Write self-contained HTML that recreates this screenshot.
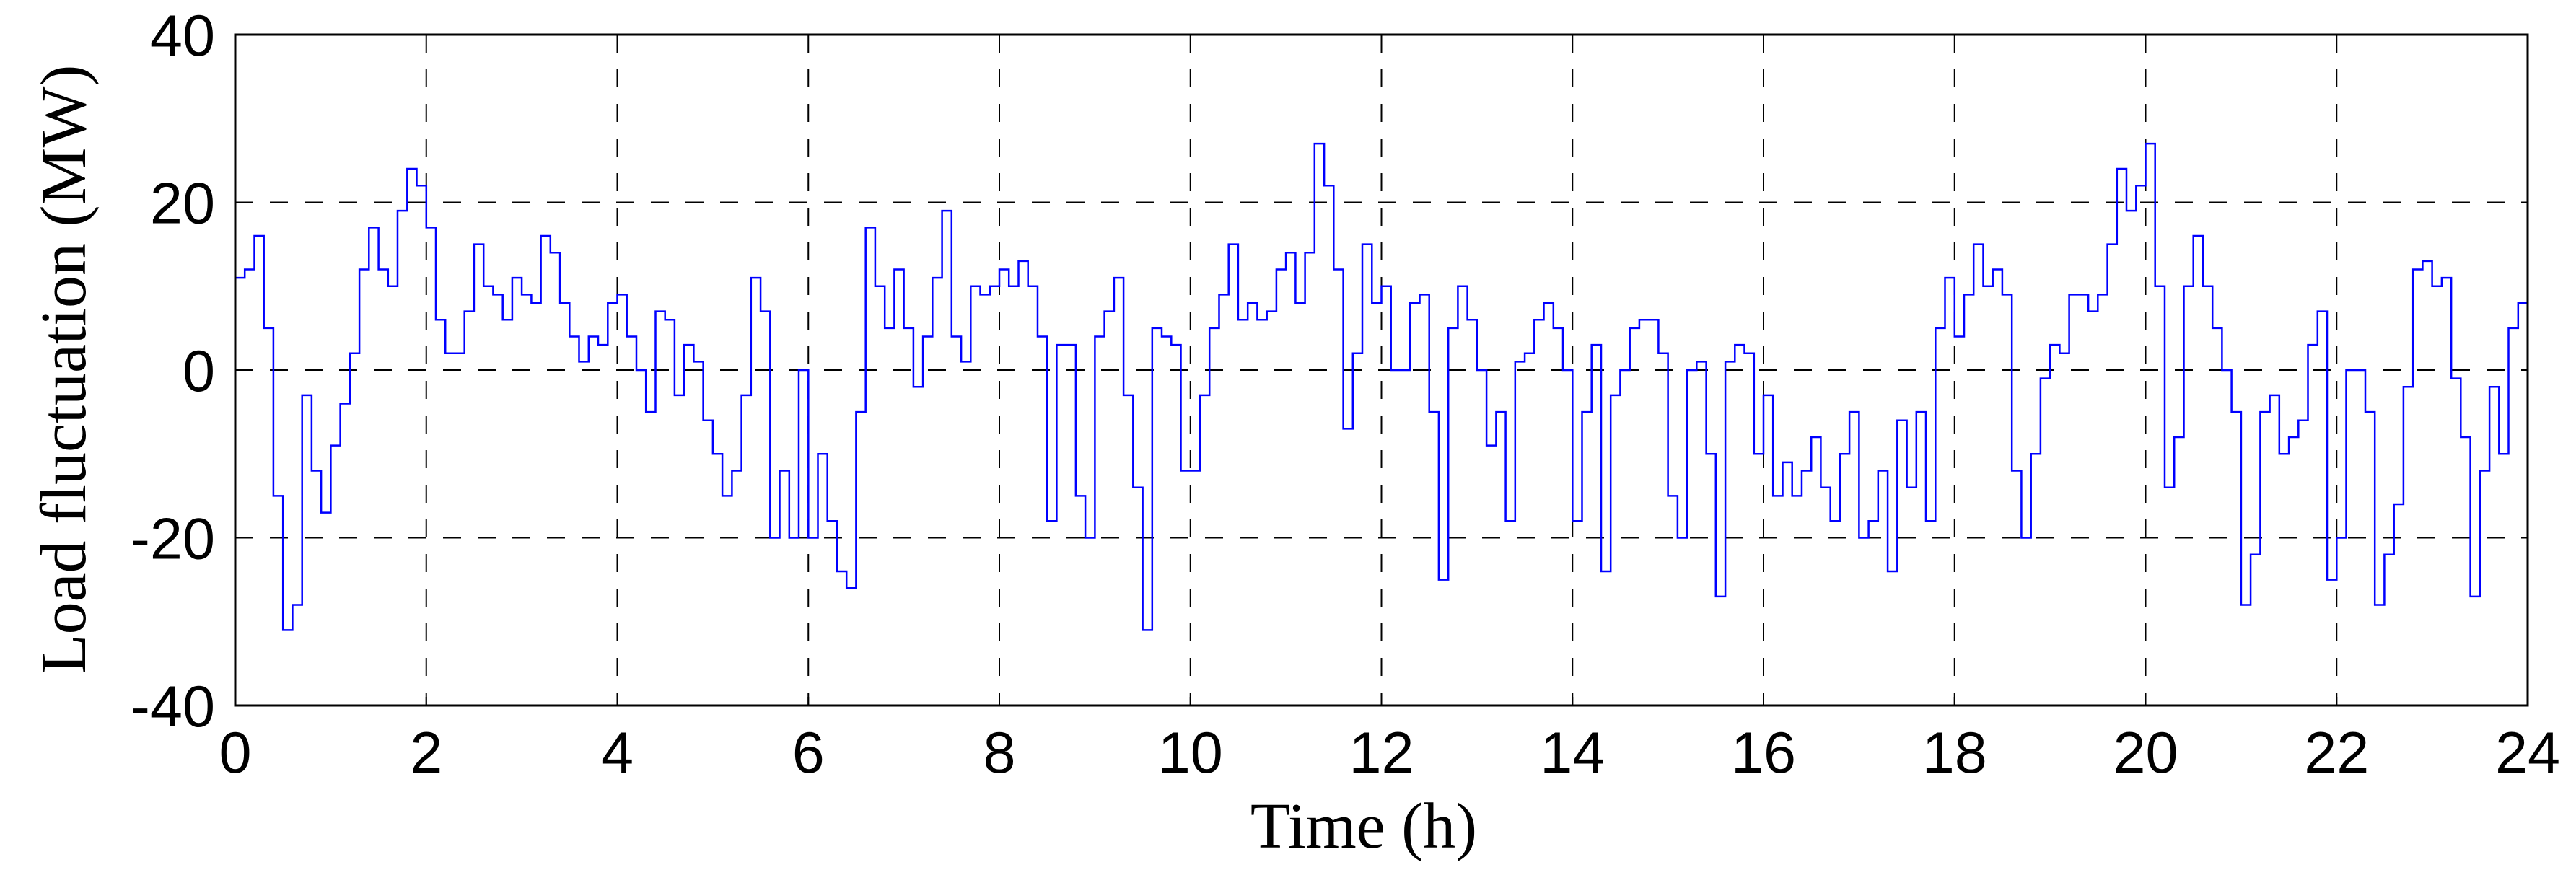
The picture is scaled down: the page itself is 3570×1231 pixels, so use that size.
<!DOCTYPE html>
<html><head><meta charset="utf-8"><style>
html,body{margin:0;padding:0;background:#fff;}
svg{display:block;}
</style></head><body>
<svg id="chart" width="3570" height="1231" xmlns="http://www.w3.org/2000/svg">
<rect x="0" y="0" width="3570" height="1231" fill="#fff"/>
<g id="grid"></g>
<g id="series"></g>
<rect x="326" y="48" width="3177" height="930" fill="none" stroke="#000" stroke-width="3"/>
<g id="ticks"></g>
<text x="1890" y="1175" text-anchor="middle" font-family="Liberation Serif, serif" font-size="90">Time (h)</text>
<text transform="translate(118,512) rotate(-90)" text-anchor="middle" font-family="Liberation Serif, serif" font-size="90">Load fluctuation (MW)</text>
</svg>
<script>
const xTicks = [0,2,4,6,8,10,12,14,16,18,20,22,24];
const yTicks = [-40,-20,0,20,40];
const stepHours = 0.1;
const loadValues = [
11,12,16,5,-15,-31,-28,-3,-12,-17,-9,-4,2,12,17,12,10,19,24,22,
17,6,2,2,7,15,10,9,6,11,9,8,16,14,8,4,1,4,3,8,
9,4,0,-5,7,6,-3,3,1,-6,-10,-15,-12,-3,11,7,-20,-12,-20,0,
-20,-10,-18,-24,-26,-5,17,10,5,12,5,-2,4,11,19,4,1,10,9,10,
12,10,13,10,4,-18,3,3,-15,-20,4,7,11,-3,-14,-31,5,4,3,-12,
-12,-3,5,9,15,6,8,6,7,12,14,8,14,27,22,12,-7,2,15,8,
10,0,0,8,9,-5,-25,5,10,6,0,-9,-5,-18,1,2,6,8,5,0,
-18,-5,3,-24,-3,0,5,6,6,2,-15,-20,0,1,-10,-27,1,3,2,-10,
-3,-15,-11,-15,-12,-8,-14,-18,-10,-5,-20,-18,-12,-24,-6,-14,-5,-18,5,11,
4,9,15,10,12,9,-12,-20,-10,-1,3,2,9,9,7,9,15,24,19,22,
27,10,-14,-8,10,16,10,5,0,-5,-28,-22,-5,-3,-10,-8,-6,3,7,-25,
-20,0,0,-5,-28,-22,-16,-2,12,13,10,11,-1,-8,-27,-12,-2,-10,5,8
];
const X0=326,X1=3503,Y0=978,Y1=48;
const xScale=t=>X0+(t/24)*(X1-X0);
const yScale=v=>Y0-((v+40)/80)*(Y0-Y1);
const NS='http://www.w3.org/2000/svg';
const grid=document.getElementById('grid');
const ticks=document.getElementById('ticks');
function mk(tag,attrs){const e=document.createElementNS(NS,tag);for(const k in attrs)e.setAttribute(k,attrs[k]);return e;}
xTicks.forEach((t,i)=>{
  const x=xScale(t);
  if(i>0&&i<xTicks.length-1){
    const g=mk('line',{x1:x,y1:Y1,x2:x,y2:Y0,stroke:'#000','stroke-width':2,'stroke-dasharray':'25,23'});
    
    
    grid.appendChild(g);
  }
  const tk=mk('line',{x1:x,y1:Y0,x2:x,y2:Y0-12,stroke:'#000','stroke-width':2});
  
  
  ticks.appendChild(tk);
  const lb=mk('text',{x:x,y:1071,'text-anchor':'middle','font-family':'Liberation Sans, sans-serif','font-size':81});
  lb.textContent=t;
  
  
  ticks.appendChild(lb);
});
yTicks.forEach((v,i)=>{
  const y=yScale(v);
  if(i>0&&i<yTicks.length-1){
    const g=mk('line',{x1:X0,y1:y,x2:X1,y2:y,stroke:'#000','stroke-width':2,'stroke-dasharray':'25,23'});
    
    
    grid.appendChild(g);
  }
  const tk=mk('line',{x1:X0,y1:y,x2:X0+12,y2:y,stroke:'#000','stroke-width':2});
  
  
  ticks.appendChild(tk);
  const lb=mk('text',{x:298,y:y+29,'text-anchor':'end','font-family':'Liberation Sans, sans-serif','font-size':81});
  lb.textContent=v;
  
  
  ticks.appendChild(lb);
});
let d='';
loadValues.forEach((v,i)=>{
  const xa=xScale(i*stepHours),xb=xScale((i+1)*stepHours),y=yScale(v);
  d+=(i===0?'M':'L')+xa.toFixed(1)+','+y.toFixed(1)+'L'+xb.toFixed(1)+','+y.toFixed(1);
});
const path=mk('path',{d:d,fill:'none',stroke:'#0000ff','stroke-width':2.5,'stroke-linejoin':'miter'});


document.getElementById('series').appendChild(path);
</script>
</body></html>
